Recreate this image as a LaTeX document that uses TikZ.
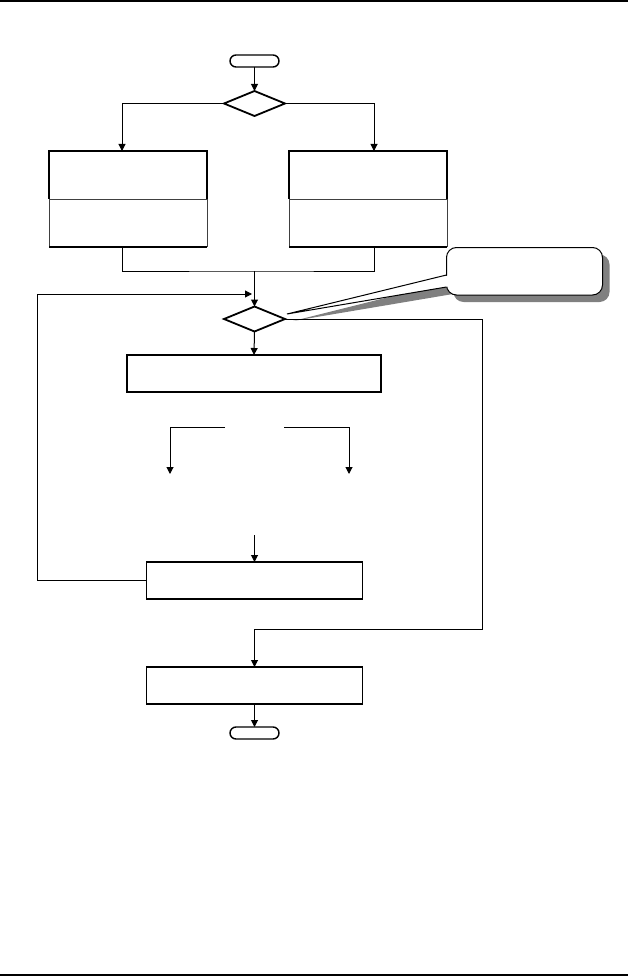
\documentclass[tikz,border=0pt]{standalone}
\usetikzlibrary{shapes.geometric,arrows.meta}

\begin{document}
\begin{tikzpicture}[x=1pt,y=-1pt,
    every node/.style={inner sep=0pt,outer sep=0pt},
    terminal/.style={draw,line width=1.4pt,rounded corners=6pt,minimum width=49pt,minimum height=12pt},
    decision/.style={draw,diamond,line width=1.8pt,minimum width=61pt,minimum height=25pt},
    process/.style={draw,line width=1.8pt,minimum height=37pt},
    panel/.style={minimum width=158pt,minimum height=96pt},
    bubble/.style={rounded corners=10pt,minimum width=156pt,minimum height=47.5pt},
    flow/.style={line width=1pt},
    arr/.style={flow,-{Triangle[length=7pt,width=7pt]}}]
        \useasboundingbox (0,0) rectangle (628,976);
        \draw[line width=1.4pt] (0,1) -- (628,1);
        \draw[line width=1.4pt] (0,975) -- (628,975);

        \node[terminal] (start) at (254.5,61) {};
        \node[decision] (choice) at (254.5,103.5) {};
        \node[panel] (left) at (128,199) {};
        \node[panel] (right) at (368,199) {};
        \foreach \p in {left,right}{
            \draw[line width=1.8pt] (\p.west) -- (\p.north west) -- (\p.north east) -- (\p.east);
            \draw[line width=0.7pt,black!75] (\p.west) -- (\p.south west) (\p.east) -- (\p.south east) (\p.west) -- (\p.east);
            \draw[line width=1.8pt] (\p.south west) -- (\p.south east);
        }
        \node[decision] (test) at (254.5,319) {};
        \node[process,minimum width=254pt] (work) at (254,373.5) {};
        \node[process,minimum width=216pt] (update) at (254.5,580.5) {};
        \node[process,minimum width=216pt] (finish) at (254.5,685.5) {};
        \node[terminal] (stop) at (254.5,733) {};

        % callout with its shadow
        \node[bubble,fill=gray] (noteshadow) at (531.5,278.25) {};
        \fill[gray] (293,321) -- (453,281) -- (453,294) -- cycle;
        \node[bubble,draw,fill=white,line width=1pt] (note) at (524.5,271.25) {};
        \coordinate (tip) at (287,314);
        \fill[white] (tip) -- (448,275.5) -- (448,286.5) -- cycle;
        \draw[flow] (446.5,275) -- (tip) -- (446.5,287);

        % connectors
        \draw[arr] (start) -- (choice);
        \draw[arr] (choice.west) -| ([xshift=-6pt]left.north);
        \draw[arr] (choice.east) -| ([xshift=6pt]right.north);
        \coordinate (join) at (254.5,271);
        \draw[flow] ([xshift=-6pt]left.south) |- (join) -| ([xshift=6pt]right.south);
        \draw[arr] (join) -- (test.north);
        \draw[arr] (test.south) -- (work.north);

        \coordinate (fromL) at (225,427);
        \coordinate (toL) at (170,474);
        \draw[arr] (fromL) -| (toL);
        \coordinate (fromR) at (284,427);
        \coordinate (toR) at (349,474);
        \draw[arr] (fromR) -| (toR);
        \coordinate (back) at (254.5,535);
        \draw[arr] (back) -- (update.north);

        \coordinate (reentry) at (252,294);
        \draw[arr] (update.west) -- ++(-109,0) |- (reentry);
        \coordinate (bend) at (482,629);
        \draw[arr] (test.east) -| (bend) -| (finish.north);
        \draw[arr] (finish.south) -- (stop.north);
    \end{tikzpicture}
\end{document}
